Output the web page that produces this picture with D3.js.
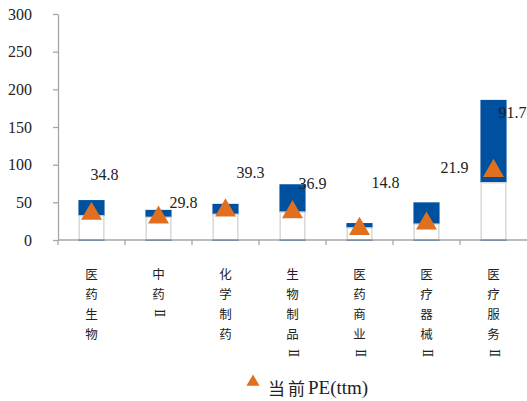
<!DOCTYPE html>
<html>
<head>
<meta charset="utf-8">
<script src="https://cdn.jsdelivr.net/npm/d3@7.9.0/dist/d3.min.js"></script>
<style>
  body { margin: 0; background: #fff; }
  svg { display: block; }
</style>
</head>
<body>
<svg id="chart" width="527" height="401"></svg>
<script>
// data ------------------------------------------------------------------
const categories = ['医药生物', '中药Ⅱ', '化学制药', '生物制品Ⅱ', '医药商业Ⅱ', '医疗器械Ⅱ', '医疗服务Ⅱ'];
const peMin     = [32, 30, 34, 37, 16, 21, 76];     // white bar (lower bound)
const peMax     = [53, 40, 48, 74, 22.5, 50, 186];   // top of blue bar
const peNow     = [34.8, 29.8, 39.3, 36.9, 14.8, 21.9, 91.7];
const yTicks    = [0, 50, 100, 150, 200, 250, 300];

// label nudges (px) relative to the triangle, as placed in the original
const labelDx = [13, 25, 25, 20, 26, 28, 19];
const labelDy = [-39, -15, -38, -29, -46, -56, -58];

const BLUE = '#0050a0', ORANGE = '#e0701f', GREY = '#a6a6a6';
const SERIF = "'Liberation Serif', serif";
const CJK = 'Noto Sans CJK SC';

const svg = d3.select('#chart');

const x = d3.scaleBand().domain(categories).range([58, 527]).padding(0);
const y = d3.scaleLinear().domain([0, 300]).range([240, 14]);
const bw = x.bandwidth() * 0.39;
const cx = c => x(c) + x.bandwidth() / 2;

/* bars ------------------------------------------------------------ */
const g = svg.append('g');
categories.forEach((c, i) => {
  g.append('rect')
    .attr('x', cx(c) - bw / 2).attr('width', bw)
    .attr('y', y(peMax[i])).attr('height', y(peMin[i]) - y(peMax[i]))
    .attr('fill', BLUE);
  g.append('rect')
    .attr('x', cx(c) - bw / 2 + 0.75).attr('width', bw - 1.5)
    .attr('y', y(peMin[i])).attr('height', y(0) - y(peMin[i]))
    .attr('fill', '#fff').attr('stroke', '#d9d9d9').attr('stroke-width', 1.5);
  g.append('rect')
    .attr('x', cx(c) - bw / 2).attr('width', bw)
    .attr('y', y(0) - 0.5).attr('height', 1.5)
    .attr('fill', BLUE);
});

/* axes ------------------------------------------------------------ */
const yAxis = svg.append('g')
  .attr('transform', `translate(58,0)`)
  .call(d3.axisLeft(y).tickValues(yTicks).tickSize(5).tickSizeOuter(0).tickPadding(21));
yAxis.selectAll('path, line').attr('stroke', GREY).attr('stroke-width', 1.3);
yAxis.selectAll('text').style('font-family', SERIF).style('font-size', '16px').attr('fill', '#222');

const xa = svg.append('g');
xa.append('line').attr('x1', 58).attr('x2', 527).attr('y1', y(0)).attr('y2', y(0))
  .attr('stroke', GREY).attr('stroke-width', 1.3);
xa.selectAll('line.tick').data(categories).join('line')
  .attr('class', 'tick')
  .attr('x1', d => x(d)).attr('x2', d => x(d))
  .attr('y1', y(0)).attr('y2', y(0) + 5)
  .attr('stroke', GREY).attr('stroke-width', 1.3);

/* category labels, written top-to-bottom ------------------------- */
categories.forEach(c => {
  const t = svg.append('g').attr('transform', `translate(${cx(c)},0)`);
  Array.from(c).forEach((ch, k) => {
    const yy = 273 + k * 20;
    const txt = t.append('text')
      .attr('x', 0).attr('y', yy)
      .attr('text-anchor', 'middle').attr('dominant-baseline', 'central')
      .style('font-family', CJK).style('font-size', '12.5px').attr('fill', '#222')
      .text(ch);
    if (ch === 'Ⅱ') {
      txt.style('font-family', 'DejaVu Serif').style('font-size', '12px')
        .attr('transform', `rotate(90,0,${yy})`);
    }
  });
});

/* current PE triangles + labels ---------------------------------- */
const tri = d3.symbol().type(d3.symbolTriangle).size(190);
categories.forEach((c, i) => {
  svg.append('path')
    .attr('d', tri())
    .attr('transform', `translate(${cx(c)},${y(peNow[i])})`)
    .attr('fill', ORANGE);
  svg.append('text')
    .attr('x', cx(c) + labelDx[i]).attr('y', y(peNow[i]) + labelDy[i])
    .attr('text-anchor', 'middle').attr('dominant-baseline', 'central')
    .style('font-family', SERIF).style('font-size', '16px').attr('fill', '#222')
    .text(peNow[i].toFixed(1));
});

/* legend ---------------------------------------------------------- */
svg.append('path')
  .attr('d', d3.symbol().type(d3.symbolTriangle).size(75)())
  .attr('transform', 'translate(253,382)')
  .attr('fill', ORANGE);
const lt = svg.append('text').attr('x', 268).attr('y', 387)
  .attr('dominant-baseline', 'central').attr('fill', '#222');
lt.append('tspan').style('font-family', CJK).style('font-size', '17px').attr('letter-spacing', 3).text('当前');
lt.append('tspan').style('font-family', SERIF).style('font-size', '19px').text('PE(ttm)');
</script>
</body>
</html>
